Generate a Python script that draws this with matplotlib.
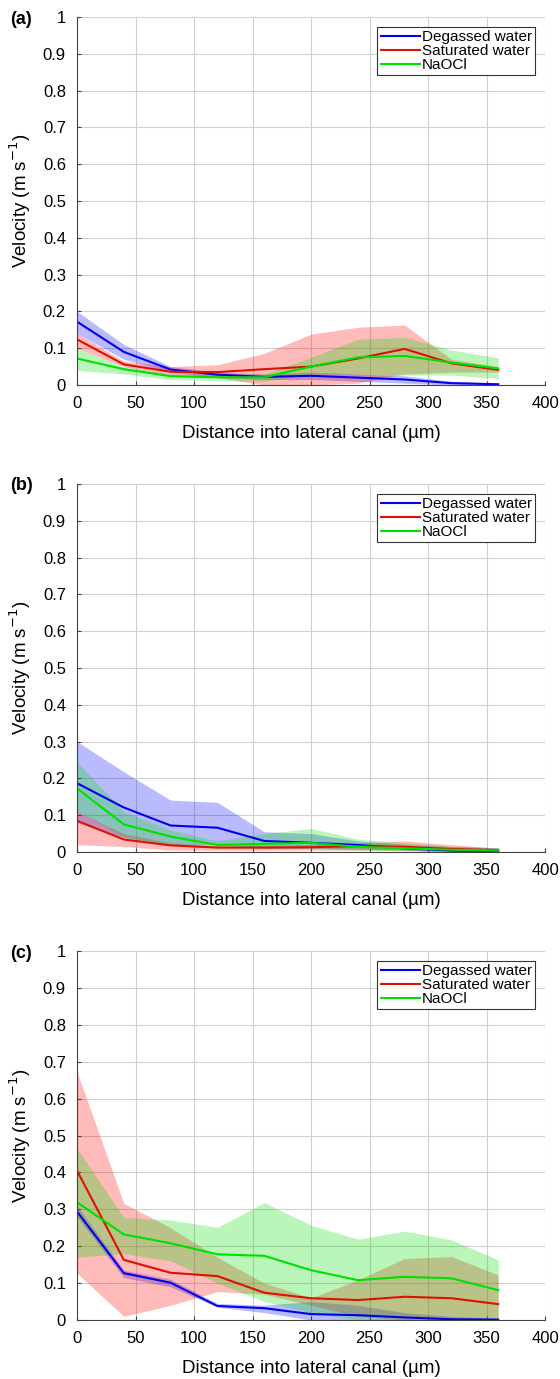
import numpy as np
import matplotlib
matplotlib.use("Agg")
import matplotlib.pyplot as plt

x_um = [0, 40, 80, 120, 160, 200, 240, 280, 320, 360]
series_names = ["Degassed water", "Saturated water", "NaOCl"]
panel_labels = ["(a)", "(b)", "(c)"]

# Panel (a)
a_deg = [0.172, 0.090, 0.042, 0.028, 0.022, 0.025, 0.020, 0.015, 0.005, 0.002]
a_deg_lo = [0.140, 0.070, 0.035, 0.020, 0.015, 0.015, 0.010, 0.005, 0.000, 0.000]
a_deg_hi = [0.200, 0.110, 0.050, 0.035, 0.030, 0.035, 0.030, 0.025, 0.010, 0.005]
a_sat = [0.124, 0.056, 0.036, 0.035, 0.043, 0.050, 0.072, 0.098, 0.059, 0.041]
a_sat_lo = [0.100, 0.050, 0.025, 0.020, 0.000, 0.000, 0.005, 0.030, 0.035, 0.035]
a_sat_hi = [0.140, 0.065, 0.050, 0.055, 0.086, 0.138, 0.157, 0.163, 0.070, 0.050]
a_naocl = [0.072, 0.043, 0.024, 0.021, 0.021, 0.050, 0.075, 0.079, 0.061, 0.045]
a_naocl_lo = [0.040, 0.030, 0.015, 0.012, 0.010, 0.030, 0.030, 0.027, 0.027, 0.018]
a_naocl_hi = [0.100, 0.050, 0.030, 0.028, 0.030, 0.075, 0.124, 0.130, 0.095, 0.074]

# Panel (b)
b_deg = [0.187, 0.121, 0.072, 0.066, 0.030, 0.025, 0.019, 0.010, 0.004, 0.002]
b_deg_lo = [0.080, 0.040, 0.020, 0.020, 0.010, 0.010, 0.008, 0.005, 0.000, 0.000]
b_deg_hi = [0.300, 0.218, 0.141, 0.135, 0.055, 0.050, 0.030, 0.020, 0.015, 0.012]
b_sat = [0.085, 0.034, 0.018, 0.012, 0.012, 0.013, 0.016, 0.014, 0.008, 0.005]
b_sat_lo = [0.020, 0.015, 0.005, 0.005, 0.005, 0.005, 0.005, 0.005, 0.002, 0.000]
b_sat_hi = [0.110, 0.050, 0.025, 0.018, 0.018, 0.020, 0.025, 0.030, 0.020, 0.010]
b_naocl = [0.173, 0.075, 0.042, 0.019, 0.022, 0.025, 0.014, 0.010, 0.006, 0.004]
b_naocl_lo = [0.110, 0.040, 0.020, 0.010, 0.010, 0.010, 0.005, 0.003, 0.000, 0.000]
b_naocl_hi = [0.245, 0.110, 0.060, 0.030, 0.050, 0.064, 0.035, 0.025, 0.015, 0.010]

# Panel (c)
c_deg = [0.294, 0.127, 0.101, 0.038, 0.032, 0.016, 0.013, 0.007, 0.002, 0.001]
c_deg_lo = [0.280, 0.115, 0.090, 0.035, 0.020, 0.000, 0.000, 0.000, 0.000, 0.000]
c_deg_hi = [0.310, 0.135, 0.110, 0.045, 0.040, 0.050, 0.040, 0.020, 0.010, 0.005]
c_sat = [0.405, 0.163, 0.128, 0.119, 0.074, 0.059, 0.054, 0.063, 0.059, 0.043]
c_sat_lo = [0.127, 0.010, 0.040, 0.077, 0.070, 0.040, 0.010, 0.000, 0.000, 0.000]
c_sat_hi = [0.673, 0.316, 0.250, 0.170, 0.100, 0.060, 0.108, 0.167, 0.172, 0.122]
c_naocl = [0.319, 0.232, 0.208, 0.178, 0.174, 0.135, 0.108, 0.117, 0.113, 0.081]
c_naocl_lo = [0.170, 0.180, 0.160, 0.100, 0.050, 0.020, 0.000, 0.000, 0.000, 0.000]
c_naocl_hi = [0.465, 0.278, 0.271, 0.251, 0.318, 0.257, 0.219, 0.241, 0.217, 0.163]

panels = [
    [(a_deg, a_deg_lo, a_deg_hi), (a_sat, a_sat_lo, a_sat_hi), (a_naocl, a_naocl_lo, a_naocl_hi)],
    [(b_deg, b_deg_lo, b_deg_hi), (b_sat, b_sat_lo, b_sat_hi), (b_naocl, b_naocl_lo, b_naocl_hi)],
    [(c_deg, c_deg_lo, c_deg_hi), (c_sat, c_sat_lo, c_sat_hi), (c_naocl, c_naocl_lo, c_naocl_hi)],
]

line_colors = ["#0000ee", "#dd1100", "#00e000"]
band_colors = ["#0000ff", "#ff0000", "#00dd00"]

plt.rcParams['font.family'] = ['Liberation Sans', 'DejaVu Sans']

fig = plt.figure(figsize=(5.6, 13.79), dpi=100)
W, H = 560, 1379
left, right = 77, 545
tops = [17, 484, 951]
bottoms = [385, 852, 1320]

for i, (top, bot) in enumerate(zip(tops, bottoms)):
    ax = fig.add_axes([left / W, 1 - bot / H, (right - left) / W, (bot - top) / H])
    for j, (mid, lo, hi) in enumerate(panels[i]):
        ax.fill_between(x_um, lo, hi, color=band_colors[j], alpha=0.27, linewidth=0)
    for j, (mid, lo, hi) in enumerate(panels[i]):
        ax.plot(x_um, mid, color=line_colors[j], lw=1.5, label=series_names[j])
    ax.set_xlim(0, 400)
    ax.set_ylim(0, 1)
    ax.set_xticks(np.arange(0, 401, 50))
    ax.set_yticks(np.arange(0, 1.01, 0.1))
    ax.set_yticklabels(["0", "0.1", "0.2", "0.3", "0.4", "0.5", "0.6", "0.7", "0.8", "0.9", "1"])
    ax.grid(True, color="#d0d0d0", lw=0.8)
    ax.set_axisbelow(True)
    ax.spines['top'].set_visible(False)
    ax.spines['right'].set_visible(False)
    ax.spines['left'].set_color("#444444")
    ax.spines['bottom'].set_color("#444444")
    ax.tick_params(direction='in', length=3, labelsize=12, color="#444444", pad=8)
    ax.set_xlabel("Distance into lateral canal (µm)", fontsize=13.5, labelpad=10)
    ax.set_ylabel("Velocity (m s$^{-1}$)", fontsize=13.5, labelpad=7)
    leg = ax.legend(loc='upper right', bbox_to_anchor=(0.9786, 0.9728), fontsize=11,
                    frameon=True, fancybox=False, edgecolor='#333333', framealpha=1,
                    handlelength=2.6, handletextpad=0.1, borderpad=0.2, labelspacing=0.0,
                    borderaxespad=0)
    leg.get_frame().set_linewidth(0.8)
    fig.text(10 / W, 1 - (top + 2) / H, panel_labels[i], fontsize=13, fontweight='bold',
             va='center', ha='left')

fig.savefig("out.png", dpi=100)
